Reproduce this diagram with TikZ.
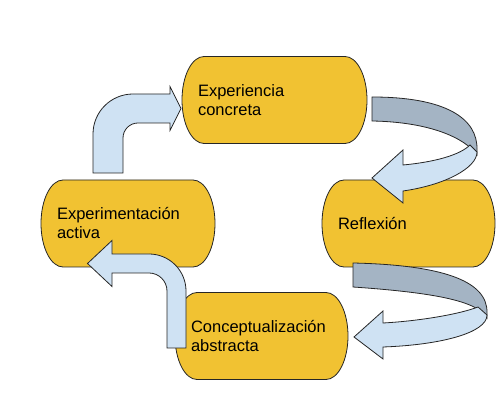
\documentclass[tikz,border=0pt]{standalone}
\usepackage{fontspec}
\setmainfont{Liberation Sans}
\usepackage{tikz}
\usetikzlibrary{positioning, backgrounds}
\definecolor{stagegold}{RGB}{241,194,50}
\definecolor{bendblue}{RGB}{207,226,243}
\definecolor{bendgrey}{RGB}{164,180,196}
\tikzset{
  stage/.style={minimum height=87pt, inner xsep=16pt, inner ysep=0pt,
                outer sep=0pt, text width=141pt, align=left,
                font=\fontsize{16.5pt}{19pt}\selectfont},
  stagefill/.style={fill=stagegold, draw=black!85, line width=0.8pt},
  blockarrow/.style={fill=bendblue, draw=black!85, line width=0.8pt,
                     line join=miter},
  backband/.style={fill=bendgrey, draw=black!85, line width=0.8pt,
                   line join=miter}
}
\newcommand{\stageshape}[1]{%
  \draw[stagefill] ([xshift=22pt]#1.north west) -- ([xshift=-22pt]#1.north east)
    arc[start angle=90, end angle=-90, x radius=22pt, y radius=43.5pt]
    -- ([xshift=22pt]#1.south west)
    arc[start angle=270, end angle=90, x radius=22pt, y radius=43.5pt] -- cycle;}

\begin{document}
\begin{tikzpicture}[x=1pt, y=1pt]
  \useasboundingbox (0,0) rectangle (501,409);

  % Stages
  \node[stage, text width=153pt] (exp) at (274.5,309) {Experiencia\\concreta};
  \node[stage, text width=142pt] (act) at (128,185.5) {Experimentación\\activa};
  \node[stage, right=107pt of act] (ref) {Reflexión};
  \node[stage] (con) at (261.5,73) {Conceptualización\\abstracta};
  \begin{scope}[on background layer]
    \foreach \s in {exp, ref, act, con} {\stageshape{\s}}
  \end{scope}

  % Experimentacion -> Experiencia
  \draw[blockarrow] (93,236) -- (93,275) arc[start angle=180, end angle=90, radius=40]
    -- (170,315) -- (170,322.5) -- (181,300.5) -- (170,278.5) -- (170,286)
    -- (138,286) arc[start angle=90, end angle=180, radius=15] -- (123,236) -- cycle;

  % Experiencia -> Reflexion
  \draw[backband] (372,312) .. controls (445,312) and (478,291) .. (477,259)
    -- (477,254) .. controls (465,271) and (430,287) .. (372,288) -- cycle;
  \draw[blockarrow] (477,257) .. controls (477,241) and (445,224) .. (403,218)
    -- (403,206) -- (372,231) -- (403,259) -- (403,244)
    .. controls (435,247) and (460,254) .. (470,264) -- cycle;

  % Reflexion -> Conceptualizacion
  \draw[backband] (353,146) .. controls (440,144) and (488,129) .. (487,96)
    -- (487,91) .. controls (478,107) and (440,116) .. (353,122) -- cycle;
  \draw[blockarrow] (487,94) .. controls (487,76) and (440,64) .. (383,62)
    -- (383,50) -- (354,72) -- (383,98) -- (383,86)
    .. controls (420,88) and (460,95) .. (478,102) -- cycle;

  % Conceptualizacion -> Experimentacion
  \draw[blockarrow] (186,61) -- (186,118) arc[start angle=0, end angle=90, radius=37]
    -- (112,155) -- (112,168.5) -- (87.5,145.5) -- (112,122.5) -- (112,136)
    -- (149,136) arc[start angle=90, end angle=0, radius=18] -- (167,61) -- cycle;
\end{tikzpicture}
\end{document}
